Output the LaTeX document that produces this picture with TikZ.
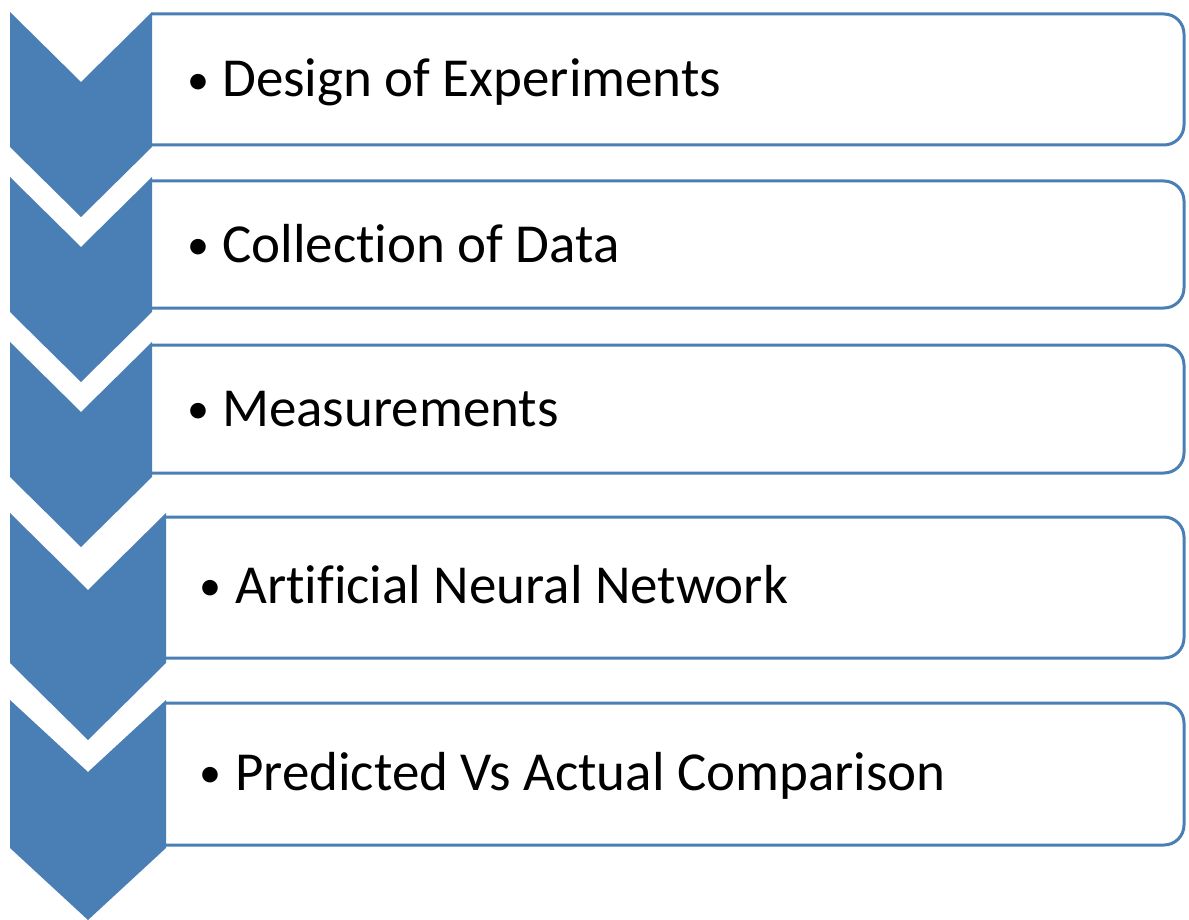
\documentclass[tikz,border=0pt]{standalone}
\usepackage{fontspec}
\setmainfont[Ligatures=NoCommon]{Carlito}
\definecolor{stepblue}{RGB}{74,127,181}
\begin{document}
\begin{tikzpicture}[x=1pt,y=-1pt,
  chevron/.style={fill=stepblue,draw=none},
  stepbox/.style={draw=stepblue,line width=3pt,fill=white},
  steptext/.style={anchor=base west,inner sep=0pt,font=\fontsize{55}{60}\selectfont,text=black}]
\useasboundingbox (0,0) rectangle (1189,920);

% text boxes: square left corners, rounded right corners
\foreach \l/\t/\b in {152/14/145, 152/181/308, 152/345/473, 166/517/658, 166/703/845}{
  \draw[stepbox] (\l,\t) [rounded corners=20pt] -- (1184,\t) -- (1184,\b) -- (\l,\b);
}

% downward chevrons (left, right, top, bottom of the straight sides, depth)
\foreach \l/\r/\t/\b/\d in {10/152/12/147/70, 10/152/177/312/70, 10/152/342/477/70,
                             10/166/513/663/77, 10/166/700/848/72}{
  \fill[chevron] (\l,\t) -- ({(\l+\r)/2},\t+\d) -- (\r,\t) -- (\r,\b)
    -- ({(\l+\r)/2},\b+\d) -- (\l,\b) -- cycle;
}

% bullet item: a slightly reduced bullet in a fixed-width box, then the text
\newcommand\bulleted[2]{\makebox[#1][l]{\raisebox{0.04em}{\scalebox{0.8}{\textbullet}}}#2}
\node[steptext] (s1) at (187,97)  {\bulleted{35pt}{Design of Experiments}};
\node[steptext] (s2) at (187,262) {\bulleted{35pt}{Collection of Data}};
\node[steptext] (s3) at (187,426) {\bulleted{35pt}{Measurements}};
\node[steptext] (s4) at (199,603) {\bulleted{36pt}{Artificial Neural Network}};
\node[steptext] (s5) at (199,790) {\bulleted{36pt}{Predicted Vs Actual Comparison}};
\end{tikzpicture}
\end{document}
